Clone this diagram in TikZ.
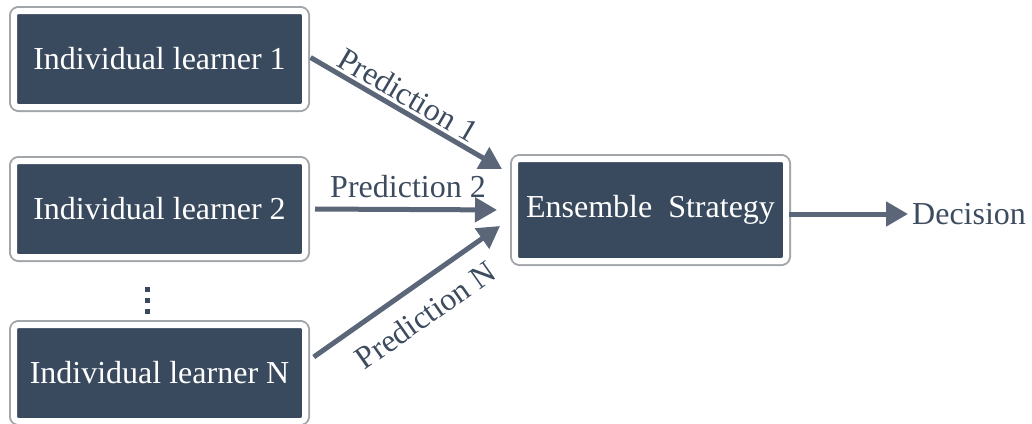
\documentclass[tikz,border=0pt]{standalone}
\usepackage{fontspec}
\setmainfont{Liberation Serif}
\usepackage{xcolor}
\usepackage{tikz}
\usetikzlibrary{arrows.meta,positioning,calc}

\definecolor{boxfill}{HTML}{3A4A5E}
\definecolor{flowC}{HTML}{5B6678}
\definecolor{labelC}{HTML}{3D4B5F}
\definecolor{frameC}{HTML}{A2A5AA}

\begin{document}
\begin{tikzpicture}[
    x=1pt, y=-1pt,
    line join=round,
    learner/.style={fill=boxfill, draw=white, line width=6pt, rounded corners=4pt,
      preaction={draw=frameC, line width=10pt, rounded corners=4pt},
      minimum width=291pt, minimum height=96pt, inner sep=0pt,
      text=white, font=\fontsize{32}{38}\selectfont},
    flow/.style={draw=flowC, line width=5pt, -{Triangle[length=22pt,width=24pt]}},
    predlabel/.style={text=labelC, font=\fontsize{32}{38}\selectfont, inner sep=3pt},
  ]
  \useasboundingbox (0,0) rectangle (1032,423);

  % ---------- individual learners ----------
  \node[learner] (l1) at (159.5,59) {Individual learner 1};
  \node[learner] (l2) at (159.5,209) {Individual learner 2};
  \node[learner] (lN) at (159.5,373) {Individual learner N};

  % vertical dots between learner 2 and N
  \foreach \yy in {287,298,309}{
    \fill[boxfill] (145,\yy) rectangle (149.5,\yy+4.5);
  }

  % ---------- combiner and output ----------
  \node[learner, minimum width=271pt, minimum height=102pt] (ens) at (650.5,210)
    {Ensemble\hspace{0.5em}Strategy};
  \node[predlabel, anchor=west, inner xsep=4pt] (dec) at (908,214) {Decision};

  % ---------- predictions ----------
  \draw[flow, shorten <=3pt] ([yshift=3]l1.east) -- ([shift={(-10,13)}]ens.north west)
    node[midway, above, sloped, predlabel, yshift=0pt, xshift=-6pt] {Prediction 1};
  \draw[flow, shorten <=7pt, shorten >=15pt] (l2.east) -- (ens.west)
    node[pos=0.5, above, predlabel, yshift=6pt, xshift=-2pt] {Prediction 2};
  \draw[flow, shorten <=7pt] ([yshift=12]lN.east) -- ([shift={(-12,16)}]ens.west)
    node[midway, below, sloped, predlabel, yshift=-13pt, xshift=5pt] {Prediction N};
  \draw[flow] (ens.east |- dec) -- (dec.west);

\end{tikzpicture}
\end{document}
